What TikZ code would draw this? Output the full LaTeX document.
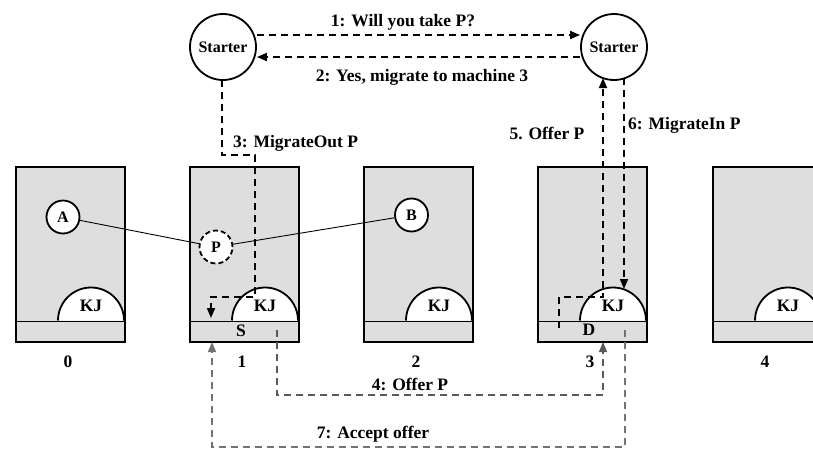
\documentclass[tikz,border=0pt]{standalone}
\usepackage{fontspec}
\setmainfont{Liberation Serif}
\usetikzlibrary{arrows.meta}
\begin{document}
\begin{tikzpicture}[x=1pt,y=-1pt,
  lbl/.style={font=\fontsize{17.5}{19}\selectfont\bfseries, inner sep=0pt},
  machine/.style={draw, line width=1.8pt, fill=black!13, minimum width=109pt, minimum height=175pt, inner sep=0pt, anchor=north west},
  strip/.style={draw, line width=1.8pt, fill=black!13, minimum width=109pt, minimum height=20.5pt, inner sep=0pt, anchor=north west},
  proc/.style={draw, circle, line width=1.8pt, fill=white, minimum size=33pt, inner sep=0pt, font=\fontsize{16}{18}\selectfont\bfseries},
  starter/.style={draw, circle, line width=1.8pt, fill=white, minimum size=66pt, inner sep=0pt, font=\fontsize{16}{18}\selectfont\bfseries},
  msg/.style={dashed, dash pattern=on 7pt off 5pt, line width=1.7pt, -{Triangle[length=10pt,width=8pt]}},
  msgg/.style={msg, line width=1.2pt, color=black!55},
]
\useasboundingbox (0,0) rectangle (813,450);
\clip (0,0) rectangle (813,450);
% machines
\foreach \i/\x in {0/15,1/189,2/363,3/537,4/712}{
  \node[machine] (m\i) at (\x,166) {};
  \node[strip] (s\i) at (\x,320.5) {};
  \draw[line width=1.8pt, fill=white] (\x+43,320.5) arc[start angle=180, end angle=360, radius=33];
  \node[lbl] (kj\i) at (\x+76,306) {KJ};
  \node[lbl] (n\i) at (\x+53,362) {\i};
}
\node[lbl] (S) at (241,331) {S};
\node[lbl] (D) at (589,330) {D};
% processes
\node[proc] (A) at (63,217) {A};
\node[proc] (B) at (411.5,215) {B};
\node[proc, dashed, dash pattern=on 5pt off 3pt] (P) at (216,247) {P};
\draw[line width=0.9pt] (A) -- (P);
\draw[line width=0.9pt] (P) -- (B);
% starters
\node[starter] (st1) at (223,47) {Starter};
\node[starter] (st3) at (614,47) {Starter};
% messages 1,2
\draw[msg] (st1.east |- 0,35) -- (st3.west |- 0,35);
\node[lbl] (l1) at (403,22) {1: Will you take P?};
\draw[msg] (st3.west |- 0,57) -- (st1.east |- 0,57);
\node[lbl] (l2) at (422,77) {2: Yes, migrate to machine 3};
% message 3
\coordinate (a3) at (222,80);
\coordinate (e3) at (211,318);
\draw[msg] (a3) -- (222,155) -- (255,155) -- (255,297) -- (211,297) -- (e3);
\node[lbl, anchor=west] (l3) at (233,143) {3: MigrateOut P};
% message 5
\coordinate (a5) at (559,328);
\coordinate (e5) at (603,78);
\draw[msg] (a5) -- (559,297) -- (603,297) -- (e5);
\node[lbl] (l5) at (547,133) {5. Offer P};
% message 6
\coordinate (a6) at (624,78);
\coordinate (e6) at (624,289);
\draw[msg] (a6) -- (e6);
\node[lbl, anchor=west] (l6) at (628,125) {6: MigrateIn P};
% message 4
\coordinate (a4) at (277,330);
\coordinate (e4) at (603,342);
\draw[msgg, color=black!65] (a4) -- (277,395) -- (603,395) -- (e4);
\node[lbl] (l4) at (410,384) {4: Offer P};
% message 7
\coordinate (a7) at (625,330);
\coordinate (e7) at (212,342);
\draw[msgg] (a7) -- (625,447) -- (212,447) -- (e7);
\node[lbl] (l7) at (373,434) {7: Accept offer};
\end{tikzpicture}
\end{document}
